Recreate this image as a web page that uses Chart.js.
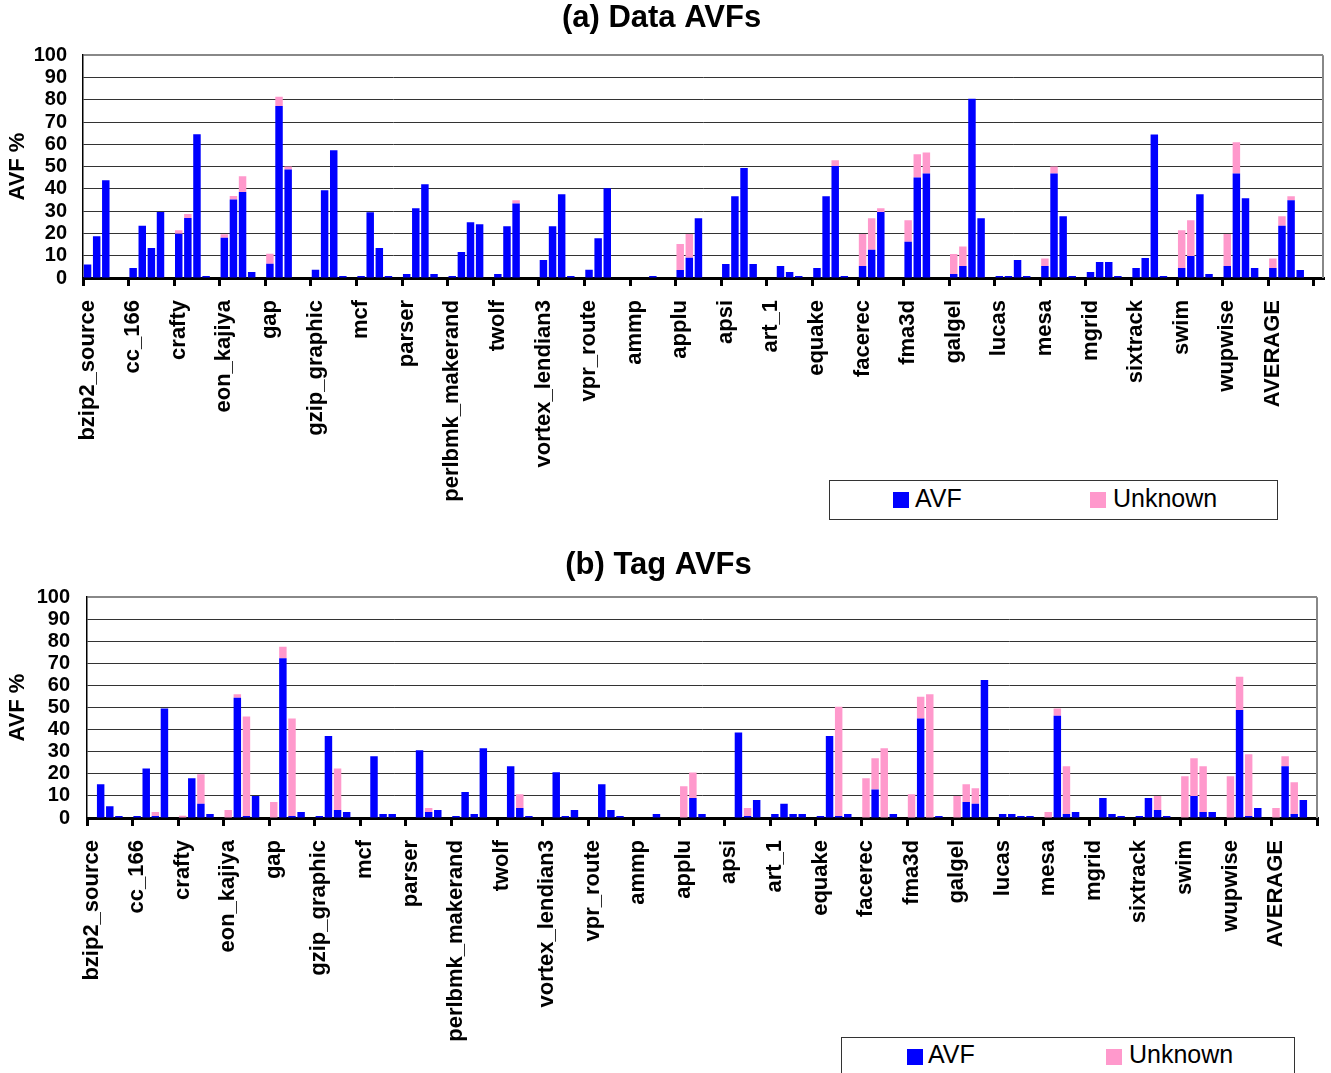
<!DOCTYPE html>
<html>
<head>
<meta charset="utf-8">
<script src="https://cdn.jsdelivr.net/npm/chart.js@4.4.1/dist/chart.umd.min.js"></script>
<style>
  body { margin: 0; background: #fff; font-family: "Liberation Sans", Arial, sans-serif; }
  .panel { position: absolute; left: 0; width: 1331px; }
  .legend { position: absolute; border: 1px solid #333; background: #fff; font-size: 25px; color: #000; }
  .legend .sw { position: absolute; width: 16px; height: 16px; }
  .legend .tx { position: absolute; line-height: 25px; }
</style>
</head>
<body>
<div class="panel" style="top:0;height:530px"><canvas id="data-chart"></canvas></div>
<div class="panel" style="top:540px;height:533px"><canvas id="tag-chart"></canvas></div>

<div class="legend" style="left:829px;top:480px;width:447px;height:38px">
  <div class="sw" style="left:63px;top:11px;background:#0000ff"></div>
  <div class="tx" style="left:85px;top:5px">AVF</div>
  <div class="sw" style="left:260px;top:11px;background:#ff99cc"></div>
  <div class="tx" style="left:283px;top:5px">Unknown</div>
</div>
<div class="legend" style="left:841px;top:1037px;width:452px;height:40px">
  <div class="sw" style="left:65px;top:11px;background:#0000ff"></div>
  <div class="tx" style="left:86px;top:4px">AVF</div>
  <div class="sw" style="left:264px;top:11px;background:#ff99cc"></div>
  <div class="tx" style="left:287px;top:4px">Unknown</div>
</div>

<script>
const benchmarks = [
  "bzip2_source", "cc_166", "crafty", "eon_kajiya", "gap", "gzip_graphic",
  "mcf", "parser", "perlbmk_makerand", "twolf", "vortex_lendian3", "vpr_route",
  "ammp", "applu", "apsi", "art_1", "equake", "facerec", "fma3d", "galgel",
  "lucas", "mesa", "mgrid", "sixtrack", "swim", "wupwise", "AVERAGE",
];

// (a) Data AVFs - four bars per benchmark
const dataAvf = [
  [6.1, 18.7, 43.9, 0], [4.5, 23.4, 13.5, 29.6], [19.9, 26.9, 64.5, 0.9],
  [18.1, 35.2, 38.6, 2.7], [6.4, 77.2, 48.7, 0], [3.7, 39.4, 57.3, 0.9],
  [0.9, 29.5, 13.5, 0.9], [1.8, 31.3, 42.1, 1.8], [0.9, 11.7, 25, 24.1],
  [1.8, 23.2, 33.4, 0], [8.1, 23.2, 37.6, 0.9], [3.7, 17.8, 40.3, 0],
  [0, 0, 0.9, 0], [3.6, 9.1, 26.8, 0], [6.3, 36.7, 49.4, 6.3],
  [0, 5.4, 2.7, 0.9], [4.5, 36.7, 50.3, 0.9], [5.4, 12.7, 29.6, 0],
  [16.3, 45.1, 46.9, 0], [1.8, 5.4, 80.5, 26.8], [0.9, 0.9, 8.1, 0.9],
  [5.4, 46.9, 27.7, 0.9], [2.7, 7.2, 7.2, 0.9], [4.5, 9, 64.4, 0.9],
  [4.5, 9.9, 37.6, 1.8], [5.4, 46.9, 35.8, 4.5], [4.5, 23.4, 34.9, 3.6],
];
const dataUnknown = [
  [0, 0, 0, 0], [0, 0, 0, 0], [1.5, 1.8, 0, 0],
  [1.5, 1.6, 7.1, 0], [4.5, 4.1, 1.4, 0], [0, 0, 0, 0],
  [0, 0, 0, 0], [0, 0, 0, 0], [0, 0, 0, 0],
  [0, 0, 1.5, 0], [0, 0, 0, 0], [0, 0, 0, 0],
  [0, 0, 0, 0], [11.7, 10.7, 0, 0], [0, 0, 0, 0],
  [0, 0, 0, 0], [0, 0, 2.5, 0], [14.4, 14.1, 1.7, 0],
  [9.6, 10.4, 9.4, 0], [9, 8.7, 0, 0], [0, 0, 0, 0],
  [3.4, 3.2, 0, 0], [0, 0, 0, 0], [0, 0, 0, 0],
  [16.9, 16, 0, 0], [14.4, 14, 0, 0], [4.3, 4.3, 1.8, 0],
];

// (b) Tag AVFs
const tagAvf = [
  [0, 15.3, 5.3, 0.9], [0.9, 22.4, 0.9, 49.6], [0, 18, 6.4, 1.8],
  [0, 54.5, 0.9, 10], [0, 72.3, 0.9, 2.7], [0.9, 37.1, 3.6, 2.7],
  [0, 28, 1.8, 1.8], [0, 30.7, 2.7, 3.6], [0.9, 11.8, 1.8, 31.6],
  [0, 23.4, 4.5, 0.9], [0, 20.7, 0.9, 3.6], [0, 15.3, 3.6, 0.9],
  [0, 0, 1.8, 0], [0, 9.1, 1.8, 0], [0, 38.7, 0.9, 8.2],
  [1.8, 6.4, 1.8, 1.8], [0.9, 37.1, 0.9, 1.8], [0, 12.9, 0, 1.8],
  [0, 45.1, 0, 0.9], [0, 7.3, 6.4, 62.5], [1.8, 1.8, 0.9, 0.9],
  [0, 46.3, 1.8, 2.7], [0, 9.1, 1.8, 0.9], [0.9, 9.1, 3.6, 0.9],
  [0, 10, 2.7, 2.7], [0, 48.9, 0.9, 4.5], [0, 23.4, 1.8, 8.2],
];
const tagUnknown = [
  [0, 0, 0, 0], [0, 0, 1.8, 0], [1, 0, 13.4, 0],
  [3.6, 1.6, 45.1, 0], [7.3, 5.3, 44.2, 0], [0, 0, 18.8, 0],
  [0, 0, 0, 0], [0, 0, 1.8, 0], [0, 0, 0, 0],
  [0, 0, 6.2, 0], [0, 0, 0, 0], [0, 0, 0, 0],
  [0, 0, 0, 0], [14.4, 11.5, 0, 0], [0, 0, 3.6, 0],
  [0, 0, 0, 0], [0, 0, 49.5, 0], [18, 14.2, 31.6, 0],
  [10.7, 9.8, 56.1, 0], [10, 8, 7.1, 0], [0, 0, 0, 0],
  [2.7, 3.3, 21.6, 0], [0, 0, 0, 0], [0, 0, 6.4, 0],
  [18.9, 17.1, 20.7, 0], [18.9, 15.1, 28, 0], [4.5, 4.6, 14.4, 0],
];

const yTicks = [0, 10, 20, 30, 40, 50, 60, 70, 80, 90, 100];

const FONT = '"Liberation Sans", Arial, sans-serif';

// each benchmark takes 5 category slots: 4 bars and one empty gap
function expandValues(rows, extra) {
  const out = [];
  rows.forEach((r) => out.push(...r, null));
  for (let i = 0; i < extra; i++) out.push(null);
  return out;
}
function expandLabels(extra) {
  const out = [];
  benchmarks.forEach((b) => out.push(b, "", "", "", ""));
  for (let i = 0; i < extra; i++) out.push("");
  return out;
}

// gray frame on the right side of the plot
const frame = {
  id: "frame",
  afterDraw(chart) {
    const { ctx, chartArea } = chart;
    ctx.save();
    ctx.strokeStyle = "#888";
    ctx.lineWidth = 2;
    ctx.beginPath();
    ctx.moveTo(chartArea.right, chartArea.top);
    ctx.lineTo(chartArea.right, chartArea.bottom);
    ctx.stroke();
    ctx.restore();
  },
};

function makeChart(id, cfg) {
  const ctx = document.getElementById(id).getContext("2d");
  return new Chart(ctx, {
    type: "bar",
    data: {
      labels: expandLabels(cfg.extra),
      datasets: [
        {
          label: "AVF",
          data: expandValues(cfg.avf, cfg.extra),
          backgroundColor: "#0000ff",
          barPercentage: 0.82,
          categoryPercentage: 1,
        },
        {
          label: "Unknown",
          data: expandValues(cfg.unknown, cfg.extra),
          backgroundColor: "#ff99cc",
          barPercentage: 0.82,
          categoryPercentage: 1,
        },
      ],
    },
    plugins: [frame],
    options: {
      responsive: true,
      maintainAspectRatio: false,
      animation: false,
      layout: { padding: { left: 0, right: cfg.padRight, top: 0, bottom: 0 } },
      plugins: {
        legend: { display: false },
        tooltip: { enabled: false },
        title: {
          display: true,
          text: cfg.title,
          color: "#000",
          font: { family: FONT, size: 31, weight: "bold" },
          padding: cfg.titlePad,
        },
      },
      scales: {
        x: {
          stacked: true,
          offset: true,
          afterFit: (s) => {
            s.height = cfg.xHeight;
            s.paddingLeft = 0;
            s.paddingRight = 0;
          },
          border: { display: true, color: "#000", width: 3 },
          grid: {
            offset: true,
            drawOnChartArea: false,
            drawTicks: true,
            tickLength: 8,
            lineWidth: 3,
            color: (c) =>
              (c.index !== undefined && c.index % 5 === 0) ||
              (cfg.endTick && c.type === "scale")
                ? "#000"
                : "rgba(0,0,0,0)",
          },
          ticks: {
            autoSkip: false,
            minRotation: 90,
            maxRotation: 90,
            padding: 14,
            color: "#000",
            font: { family: FONT, size: 22, weight: "bold" },
          },
        },
        y: {
          stacked: true,
          min: 0,
          max: 100,
          afterFit: (s) => { s.width = cfg.yWidth; },
          afterBuildTicks: (s) => { s.ticks = yTicks.map((v) => ({ value: v })); },
          border: { display: true, color: "#000", width: 1.5 },
          grid: {
            drawTicks: false,
            color: (c) => (c.tick && c.tick.value === 100 ? "#888" : "#333"),
            lineWidth: (c) => (c.tick && c.tick.value === 100 ? 2 : 1),
          },
          ticks: {
            autoSkip: false,
            padding: cfg.yPad,
            color: "#000",
            font: { family: FONT, size: 20, weight: "bold" },
          },
          title: {
            display: true,
            text: "AVF %",
            color: "#000",
            padding: { top: 5, bottom: 0 },
            font: { family: FONT, size: 22, weight: "bold" },
          },
        },
      },
    },
  });
}

document.addEventListener("DOMContentLoaded", () => {
  makeChart("data-chart", {
    title: "(a) Data AVFs",
    avf: dataAvf,
    unknown: dataUnknown,
    extra: 1,
    endTick: false,
    padRight: 8,
    yWidth: 83,
    yPad: 16,
    xHeight: 252,
    titlePad: { top: 0, bottom: 18 },
  });
  makeChart("tag-chart", {
    title: "(b) Tag AVFs",
    avf: tagAvf,
    unknown: tagUnknown,
    extra: 0,
    endTick: true,
    padRight: 14,
    yWidth: 87,
    yPad: 17,
    xHeight: 255,
    titlePad: { top: 7, bottom: 13 },
  });
});
</script>
</body>
</html>
